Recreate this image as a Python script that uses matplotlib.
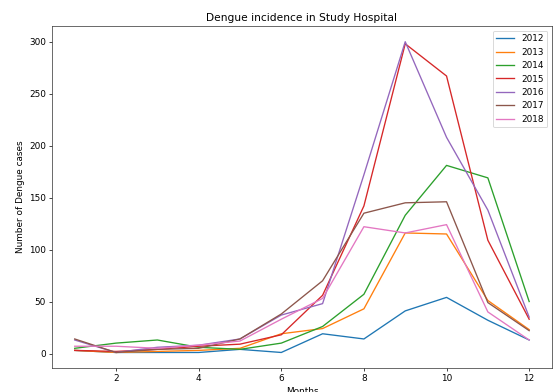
import numpy as np
import matplotlib
matplotlib.use('Agg')
import matplotlib.pyplot as plt

months = np.arange(1, 13)
y2012 = [3, 1, 1, 1, 4, 1, 19, 14, 41, 54, 32, 13]
y2013 = [3, 1, 2, 3, 5, 19, 24, 43, 116, 115, 51, 23]
y2014 = [5, 10, 13, 6, 4, 10, 26, 57, 133, 181, 169, 50]
y2015 = [3, 2, 4, 7, 9, 18, 56, 142, 298, 267, 109, 33]
y2016 = [13, 1, 6, 8, 14, 37, 48, 172, 300, 208, 138, 35]
y2017 = [14, 1, 4, 5, 14, 38, 70, 135, 145, 146, 49, 22]
y2018 = [7, 7, 5, 8, 12, 33, 53, 122, 116, 124, 40, 13]

series = [('2012', y2012), ('2013', y2013), ('2014', y2014), ('2015', y2015),
          ('2016', y2016), ('2017', y2017), ('2018', y2018)]

fig = plt.figure(figsize=(553 / 64, 392 / 64), dpi=64)
ax = fig.add_axes([0.094, 0.0612, 0.904, 0.872])

for label, vals in series:
    ax.plot(months, vals, label=label)

ax.set_title('Dengue incidence in Study Hospital')
ax.set_xlabel('Months')
ax.set_ylabel('Number of Dengue cases')
ax.legend(loc='upper right')

for s in ax.spines.values():
    s.set_color('#333333')

fig.savefig('out.png', dpi=64)
